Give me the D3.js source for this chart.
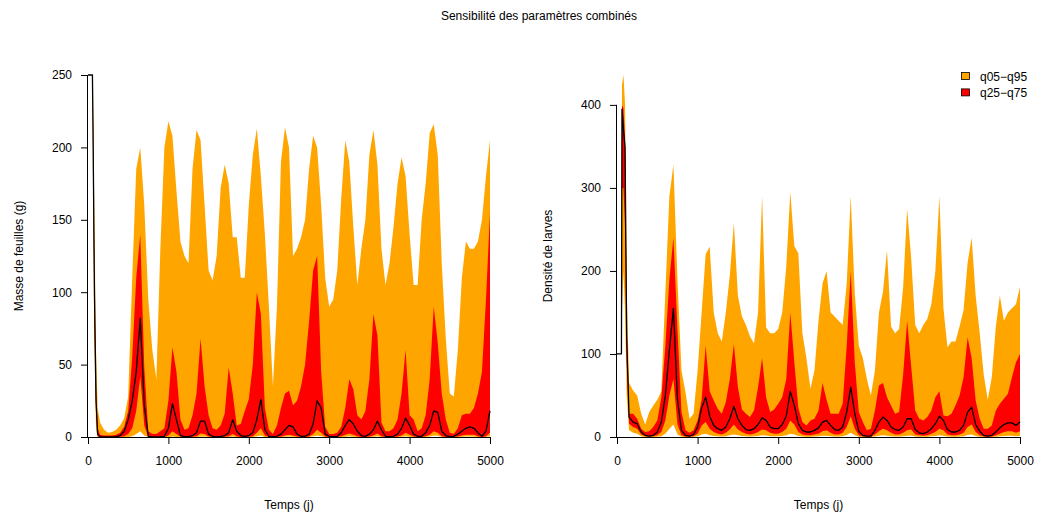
<!DOCTYPE html>
<html><head><meta charset="utf-8">
<script src="https://cdn.jsdelivr.net/npm/d3@7"></script>
<style>
body{margin:0;background:#fff}
svg{display:block}
text{font-family:"Liberation Sans",Arial,Helvetica,sans-serif;fill:#000}
</style>
</head><body>
<svg id="chart" width="1037" height="518"></svg>
<script>
// ---- DATA ----
const chartTitle = "Sensibilité des paramètres combinés";
const xLabel = "Temps (j)";
const leafLabel = "Masse de feuilles (g)";
const larvaLabel = "Densité de larves";
const legendLabels = ["q05\u2212q95", "q25\u2212q75"];
const xTicks = [0, 1000, 2000, 3000, 4000, 5000];
const leafTicks = [0, 50, 100, 150, 200, 250];
const larvaTicks = [0, 100, 200, 300, 400];

const days = [0,55,62,80,100,120,150,
 200,250,300,350,400,450,500,550,600,650,
 700,750,800,850,900,950,1000,1050,1100,1150,
 1200,1250,1300,1350,1400,1450,1500,1550,1600,1650,
 1700,1750,1800,1850,1900,1950,2000,2050,2100,2150,
 2200,2250,2300,2350,2400,2450,2500,2550,2600,2650,
 2700,2750,2800,2850,2900,2950,3000,3050,3100,3150,
 3200,3250,3300,3350,3400,3450,3500,3550,3600,3650,
 3700,3750,3800,3850,3900,3950,4000,4050,4100,4150,
 4200,4250,4300,4350,4400,4450,4500,4550,4600,4650,
 4700,4750,4800,4850,4900,4950,5000];

const leafQ95 = [250,250,240,150,60,20,10,
 5,3,3.5,5,8,13,28,110,185,200,
 160,95,60,40,130,200,218,208,170,135,
 125,120,185,212,205,160,115,108,125,172,
 188,175,138,138,110,110,160,195,213,180,
 140,90,35,90,190,214,200,125,130,138,
 150,185,208,200,160,110,90,95,115,165,
 205,190,145,105,130,150,195,212,188,130,
 105,120,145,175,193,180,140,105,105,150,
 175,210,216,195,120,68,30,28,60,110,
 135,130,130,135,150,180,205];
const leafQ75 = [250,250,225,110,35,6,1.5,
 1,1,1,1.5,3,7,18,55,110,140,
 48,4,2,2,4,6,25,62,45,12,
 5,6,15,30,68,35,15,6,5,8,
 16,48,30,8,9,18,26,50,100,85,
 20,5,2,8,20,30,32,22,25,35,
 50,80,115,125,45,7,2,2,3,7,
 20,40,33,15,12,18,40,85,70,10,
 4,4,6,12,30,60,15,12,4,6,
 15,40,90,65,30,12,3,2,6,15,
 16,16,20,30,45,95,155];
const leafMed = [250,250,215,100,25,2,0.2,
 0,0,0.1,0.3,1,4,12,25,45,82,
 22,0.5,0,0,0.2,0.5,6,23,12,1,
 0.3,0.3,1,3,11,11,2,0.5,0.3,0.5,
 1,3,12,4,1,0.5,1,3,12,26,
 5,0.5,0.2,0.5,2,5,8,7,2,0.5,
 0.5,2,9,25,20,2,0.5,0.3,0.5,3,
 8,12,9,4,1,0.5,2,5,11,5,
 0.5,0.3,0.5,2,6,13,8,2,0.5,0.5,
 3,8,18,17,4,1,0.3,0.5,2,4,
 6,7,6,3,0.5,4,18];
const leafQ25 = [250,250,200,80,15,0.5,0,
 0,0,0,0,0.2,0.5,2,6,18,42,
 8,0,0,0,0,0,1,4,2,0.3,
 0,0,0.2,0.5,2.5,2,0.3,0,0,0,
 0.2,0.5,2,0.5,0,0,0.2,0.5,3,6,
 1,0,0,0,0.3,1,1.5,1,0.3,0,
 0,0.3,2,5,3,0.3,0,0,0,0.5,
 1.5,2.5,1.5,0.5,0,0,0.3,1,2.5,0.5,
 0,0,0,0.3,1,3,1.5,0.3,0,0,
 0.5,1.5,4,3,0.5,0,0,0,0.3,1,
 1.5,1.5,1.5,0.5,0,0.5,3];
const leafQ05 = [250,250,180,60,5,0,0,
 0,0,0,0,0,0,0,0.5,2,4,
 1,0,0,0,0,0,0,0.3,0,0,
 0,0,0,0,0.3,0.3,0,0,0,0,
 0,0,0.3,0,0,0,0,0,0.5,1,
 0,0,0,0,0,0.2,0.3,0.2,0,0,
 0,0,0.5,1,0.5,0,0,0,0,0,
 0.2,0.5,0.2,0,0,0,0,0.2,0.5,0,
 0,0,0,0,0.2,0.5,0.2,0,0,0,
 0,0.3,1,0.8,0,0,0,0,0,0.2,
 0.3,0.3,0.3,0,0,0,0.5];

const larvaQ95 = [100,100,425,436,400,180,65,
 56,50,28,15,30,38,45,55,175,290,
 328,190,80,54,22,28,80,150,220,229,
 150,125,115,150,195,258,170,145,135,121,
 113,150,290,132,125,125,130,150,205,295,
 230,221,125,95,58,80,140,185,200,150,
 145,140,135,185,290,173,110,95,70,50,
 80,150,175,225,133,125,130,180,275,215,
 135,125,135,142,160,200,290,155,108,115,
 115,133,153,210,240,170,125,75,45,72,
 133,170,140,150,155,160,181];
const larvaQ75 = [100,100,400,396,360,140,28,
 28,22,10,6,7,12,20,48,110,190,
 240,130,30,8,5,8,20,45,110,55,
 44,34,28,42,70,112,60,33,28,24,
 32,60,95,48,30,33,40,48,70,150,
 90,35,18,14,20,22,32,65,45,28,
 28,28,40,110,200,90,30,18,8,10,
 32,62,65,48,38,28,30,75,140,85,
 32,22,20,24,32,48,55,26,25,28,
 38,50,72,120,95,44,22,10,10,14,
 32,40,46,52,72,90,100];
const larvaMed = [100,100,395,370,349,120,24,
 18,16,6,2,1,2,6,18,50,105,
 155,45,8,2,1,3,12,35,48,25,
 14,10,8,12,22,37,22,14,9,8,
 10,15,23,20,12,10,10,15,25,55,
 38,16,8,6,6,8,11,18,20,14,
 9,8,12,30,60,28,7,2,1,1,
 8,18,24,20,12,9,8,12,22,22,
 9,5,4,6,10,16,25,20,9,6,
 6,8,14,30,36,15,7,2,1,2,
 6,11,15,17,17,14,18];
const larvaQ25 = [100,100,300,300,250,90,16,
 12,10,3,1,0.5,1,2,6,20,50,
 70,15,2,0.5,0.5,1,4,14,18,10,
 6,4,3,5,9,15,9,6,4,3,
 4,6,9,8,5,4,4,6,10,20,
 15,6,3,2,2,3,4,7,8,5,
 3,3,5,12,25,10,2,0.5,0.3,0.3,
 3,7,10,8,5,3,3,5,8,9,
 3,2,1.5,2,4,6,10,8,3,2,
 2,3,5,12,15,6,2,0.5,0.3,0.5,
 2,4,6,7,7,5,7];
const larvaQ05 = [100,100,150,200,150,50,8,
 5,4,1,0,0,0,0.3,1,4,10,
 15,3,0.3,0,0,0.2,0.8,3,4,2,
 1.2,0.8,0.6,1,2,3,2,1.2,0.8,0.6,
 0.8,1.2,2,1.8,1,0.8,0.8,1.2,2,4,
 3,1.2,0.5,0.3,0.3,0.5,0.8,1.5,1.6,1,
 0.6,0.5,1,2.5,5,2,0.3,0,0,0,
 0.5,1.5,2,1.6,1,0.6,0.6,1,1.6,1.8,
 0.6,0.4,0.3,0.4,0.8,1.2,2,1.6,0.6,0.4,
 0.4,0.6,1,2.5,3,1.2,0.4,0,0,0,
 0.4,0.8,1.2,1.4,1.4,1,1.4];

// ---- DRAWING ----
const svg = d3.select("#chart");
const outerColor = "#FFA500", innerColor = "#FF0000";
const plotTop = 75, plotBottom = 437;

function panel(x0, x1, q05, q25, med, q75, q95, yMax, yTicks, yTitle, titleX) {
  const x = d3.scaleLinear().domain([0, 5000]).range([x0, x1]);
  const y = d3.scaleLinear().domain([0, yMax]).range([plotBottom, plotTop]);
  const rows = days.map((d, i) => ({d, q05: q05[i], q25: q25[i], med: med[i], q75: q75[i], q95: q95[i]}));
  const g = svg.append("g");
  g.append("path").datum(rows)
    .attr("fill", outerColor)
    .attr("d", d3.area().x(r => x(r.d)).y0(r => y(r.q05)).y1(r => y(r.q95)));
  g.append("path").datum(rows)
    .attr("fill", innerColor)
    .attr("d", d3.area().x(r => x(r.d)).y0(r => y(r.q25)).y1(r => y(r.q75)));
  g.append("path").datum(rows)
    .attr("fill", "none").attr("stroke", "#000").attr("stroke-width", 1.3)
    .attr("stroke-linejoin", "round")
    .attr("d", d3.line().x(r => x(r.d)).y(r => y(r.med)));

  // x axis
  const xa = svg.append("g").attr("transform", `translate(0,${plotBottom})`)
    .call(d3.axisBottom(x).tickValues(xTicks).tickFormat(d3.format("d")).tickSize(7).tickPadding(12).tickSizeOuter(0));
  xa.select(".domain").remove();
  xa.append("line").attr("x1", x(xTicks[0])).attr("x2", x(xTicks[xTicks.length-1]))
    .attr("y1", 0.5).attr("y2", 0.5).attr("stroke", "#000");
  xa.selectAll("text").attr("font-size", 12).attr("font-family", "Liberation Sans, Arial, sans-serif").attr("fill", "#000");

  // y axis
  const ya = svg.append("g").attr("transform", `translate(${x0},0)`)
    .call(d3.axisLeft(y).tickValues(yTicks).tickFormat(d3.format("d")).tickSize(7).tickPadding(9).tickSizeOuter(0));
  ya.select(".domain").remove();
  ya.append("line").attr("x1", -0.5).attr("x2", -0.5)
    .attr("y1", y(yTicks[0])).attr("y2", y(yTicks[yTicks.length-1])).attr("stroke", "#000");
  ya.selectAll("text").attr("font-size", 12).attr("font-family", "Liberation Sans, Arial, sans-serif").attr("fill", "#000");

  svg.append("text").attr("x", (x0 + x1) / 2).attr("y", 509)
    .attr("text-anchor", "middle").attr("font-size", 12).text(xLabel);
  svg.append("text").attr("transform", `translate(${titleX},${(plotTop + plotBottom) / 2}) rotate(-90)`)
    .attr("text-anchor", "middle").attr("font-size", 12).text(yTitle);
  return {x, y};
}

panel(88, 490, leafQ05, leafQ25, leafMed, leafQ75, leafQ95, 250, leafTicks, leafLabel, 23);
panel(617, 1020, larvaQ05, larvaQ25, larvaMed, larvaQ75, larvaQ95, d3.max(larvaQ95), larvaTicks, larvaLabel, 552);

svg.append("text").attr("x", 539).attr("y", 20).attr("text-anchor", "middle")
  .attr("font-size", 12).text(chartTitle);

// legend
const legend = svg.append("g");
[outerColor, innerColor].forEach((c, i) => {
  legend.append("rect").attr("x", 961.5).attr("y", 72.5 + i * 16.4).attr("width", 8).attr("height", 7)
    .attr("fill", c).attr("stroke", "#000").attr("stroke-width", 0.8);
  legend.append("text").attr("x", 980).attr("y", 80.5 + i * 16.4).attr("font-size", 12).text(legendLabels[i]);
});
</script>
</body></html>
